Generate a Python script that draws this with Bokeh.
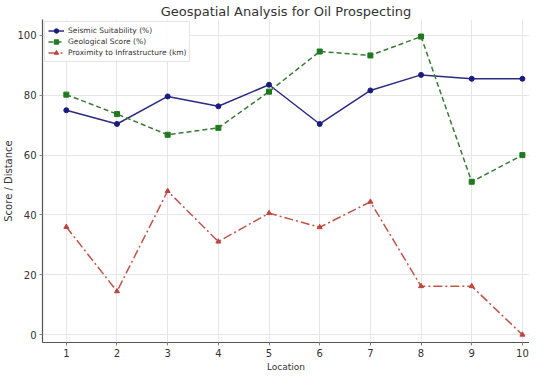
from bokeh.plotting import figure
from bokeh.models import Range1d, Legend, LegendItem, FixedTicker, Title
from bokeh.embed import file_html
from bokeh.resources import INLINE

locations = [1, 2, 3, 4, 5, 6, 7, 8, 9, 10]
seismic = [75.0, 70.4, 79.6, 76.3, 83.5, 70.4, 81.6, 86.8, 85.5, 85.5]
geological = [80.2, 73.7, 66.8, 69.1, 81.2, 94.6, 93.3, 99.6, 51.1, 60.0]
proximity = [36.0, 14.5, 48.0, 31.1, 40.6, 35.9, 44.4, 16.2, 16.2, 0.0]
x_ticks = [1, 2, 3, 4, 5, 6, 7, 8, 9, 10]
y_ticks = [0, 20, 40, 60, 80, 100]

FONT = "DejaVu Sans"

p = figure(width=529, height=371, output_backend="svg", toolbar_location=None,
           x_range=Range1d(0.53, 10.14), y_range=Range1d(-2.6, 105.3),
           title="Geospatial Analysis for Oil Prospecting", min_border=0)

p.title.align = "center"
p.title.text_font = FONT
p.title.text_font_size = "13px"
p.title.text_font_style = "normal"
p.title.text_color = "#333333"
p.title.standoff = 2
p.title.offset = 0

p.outline_line_color = None
for ax in (p.xaxis, p.yaxis):
    ax.axis_line_color = "#555555"
    ax.axis_line_width = 1.2
    ax.major_tick_line_color = "#888888"
    ax.major_tick_out = 3
    ax.major_tick_in = 0
    ax.minor_tick_line_color = None
    ax.major_label_text_font = FONT
    ax.major_label_text_font_size = "10px"
    ax.major_label_text_color = "#333333"
    ax.major_label_standoff = 3
    ax.axis_label_text_font = FONT
    ax.axis_label_text_font_style = "normal"
    ax.axis_label_text_color = "#333333"

p.xaxis.ticker = FixedTicker(ticks=x_ticks)
p.yaxis.ticker = FixedTicker(ticks=y_ticks)
p.yaxis.axis_label = "Score / Distance"
p.yaxis.axis_label_text_font_size = "10px"
p.yaxis.axis_label_standoff = 0

p.add_layout(Title(text="Location", align="center", text_font=FONT, text_font_size="9px",
                   text_font_style="normal", text_color="#333333", standoff=0, offset=0), "below")

p.grid.grid_line_color = "#e6e6e6"
p.grid.grid_line_width = 1

l1 = p.line(locations, seismic, line_color="#2b2b85", line_width=1.5)
m1 = p.scatter(locations, seismic, marker="circle", size=5, fill_color="#1a1a80", line_color="#1a1a80")
l2 = p.line(locations, geological, line_color="#3a7a35", line_width=1.5, line_dash="5 3")
m2 = p.scatter(locations, geological, marker="square", size=5, fill_color="#1f7a1f", line_color="#1f7a1f")
l3 = p.line(locations, proximity, line_color="#c0544a", line_width=1.5, line_dash="9 3 2 3")
m3 = p.scatter(locations, proximity, marker="triangle", size=5, fill_color="#c0443a", line_color="#c0443a")

legend = Legend(items=[
    LegendItem(label="Seismic Suitability (%)", renderers=[l1, m1]),
    LegendItem(label="Geological Score (%)", renderers=[l2, m2]),
    LegendItem(label="Proximity to Infrastructure (km)", renderers=[l3, m3]),
], location="top_left")
legend.label_text_font = FONT
legend.label_text_font_size = "7.5px"
legend.label_text_color = "#333333"
legend.glyph_width = 16
legend.glyph_height = 11
legend.label_height = 11
legend.spacing = 0
legend.padding = 3
legend.margin = 2
legend.label_standoff = 4
legend.border_line_color = "#cccccc"
legend.background_fill_alpha = 0.9
p.add_layout(legend)

open("out.html", "w").write(file_html(p, INLINE))
